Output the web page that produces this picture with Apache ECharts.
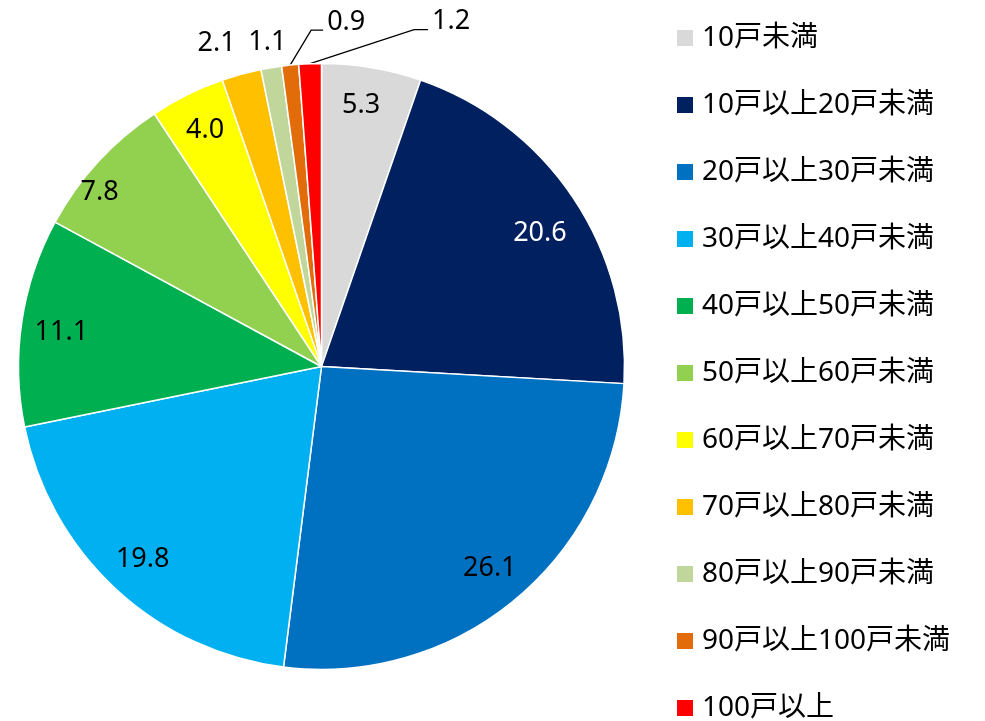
<!DOCTYPE html>
<html><head><meta charset="utf-8">
<script src="https://cdn.jsdelivr.net/npm/echarts@6/dist/echarts.min.js"></script>
<style>html,body{margin:0;padding:0;background:#fff}#c{width:985px;height:721px}</style>
</head><body><div id="c"></div>
<script>
const categories = ['10戸未満','10戸以上20戸未満','20戸以上30戸未満','30戸以上40戸未満','40戸以上50戸未満','50戸以上60戸未満','60戸以上70戸未満','70戸以上80戸未満','80戸以上90戸未満','90戸以上100戸未満','100戸以上'];
const values = [5.3, 20.6, 26.1, 19.8, 11.1, 7.8, 4.0, 2.1, 1.1, 0.9, 1.2];
const colors = ['#D9D9D9','#002060','#0070C0','#00B0F0','#00B050','#92D050','#FFFF00','#FFC000','#C0D69B','#E26B0A','#FF0000'];

const CX = 321.5, CY = 366.5, R = 303, LABEL_R = 263;
const FONT = "'Noto Sans', 'Noto Sans CJK JP', sans-serif";
// small nudges of inside labels (pixels)
const insideNudge = {1: [0, 13], 4: [0, 5], 5: [-28, 3], 0: [-4, -2]};
// offsets for outside labels relative to the slice edge point
const outsideCfg = {
  7: {lbl:[-25, -31], line:false},
  8: {lbl:[-4, -25], line:false},
  9: {lbl:[37, -43], pts:[[21,-35],[33,-35]], line:true},
  10:{lbl:[122, -42], pts:[[104,-34],[118,-34]], line:true}
};

const data = values.map((v, i) => {
  const item = {value: v, name: categories[i], itemStyle: {color: colors[i]}};
  if (outsideCfg[i]) {
    item.label = {position: 'outside', color: '#000'};
    item.labelLine = {show: true, lineStyle: {color: '#000', width: 1.3, opacity: outsideCfg[i].line ? 1 : 0}};
  } else {
    item.label = {position: 'inside', color: i === 1 ? '#fff' : '#000'};
    item.labelLine = {show: false};
  }
  return item;
});

const chart = echarts.init(document.getElementById('c'), null, {renderer: 'canvas'});
chart.setOption({
  animation: false,
  backgroundColor: '#fff',
  legend: {
    orient: 'vertical',
    left: 675, top: 24, height: 705, padding: 0,
    itemWidth: 18, itemHeight: 18, itemGap: 39,
    icon: 'rect',
    data: categories,
    textStyle: {fontFamily: FONT, fontSize: 28, color: '#000', padding: [0,0,0,3]}
  },
  series: [{
    type: 'pie',
    center: [CX, CY],
    radius: [0, R],
    startAngle: 90,
    clockwise: true,
    avoidLabelOverlap: false,
    itemStyle: {borderColor: '#fff', borderWidth: 1.5},
    label: {
      show: true, fontFamily: FONT, fontSize: 27,
      formatter: p => p.value.toFixed(1)
    },
    labelLine: {length: 20, length2: 10},
    emphasis: {disabled: true},
    labelLayout: function (params) {
      const i = params.dataIndex;
      const cfg = outsideCfg[i];
      if (!cfg) {
        const r = params.labelRect;
        const lx = r.x + r.width / 2, ly = r.y + r.height / 2;
        const vx = lx - CX, vy = ly - CY;
        const d = Math.hypot(vx, vy) || 1;
        const k = LABEL_R / d;
        const n = insideNudge[i] || [0, 0];
        return {x: CX + vx * k + n[0], y: CY + vy * k + n[1], align: 'center', verticalAlign: 'middle'};
      }
      let p0;
      if (params.labelLinePoints && params.labelLinePoints.length) {
        p0 = params.labelLinePoints[0];
      } else {
        const total = values.reduce((a, b) => a + b, 0);
        let cum = 0; for (let j = 0; j < i; j++) cum += values[j];
        const ang = (cum + values[i] / 2) / total * Math.PI * 2;
        p0 = [CX + R * Math.sin(ang), CY - R * Math.cos(ang)];
      }
      const out = {
        x: p0[0] + cfg.lbl[0], y: p0[1] + cfg.lbl[1],
        align: cfg.line ? 'left' : 'center', verticalAlign: 'middle'
      };
      if (cfg.pts) {
        out.labelLinePoints = [[p0[0], p0[1]]].concat(cfg.pts.map(q => [p0[0] + q[0], p0[1] + q[1]]));
      }
      return out;
    },
    data: data
  }]
});
</script></body></html>
